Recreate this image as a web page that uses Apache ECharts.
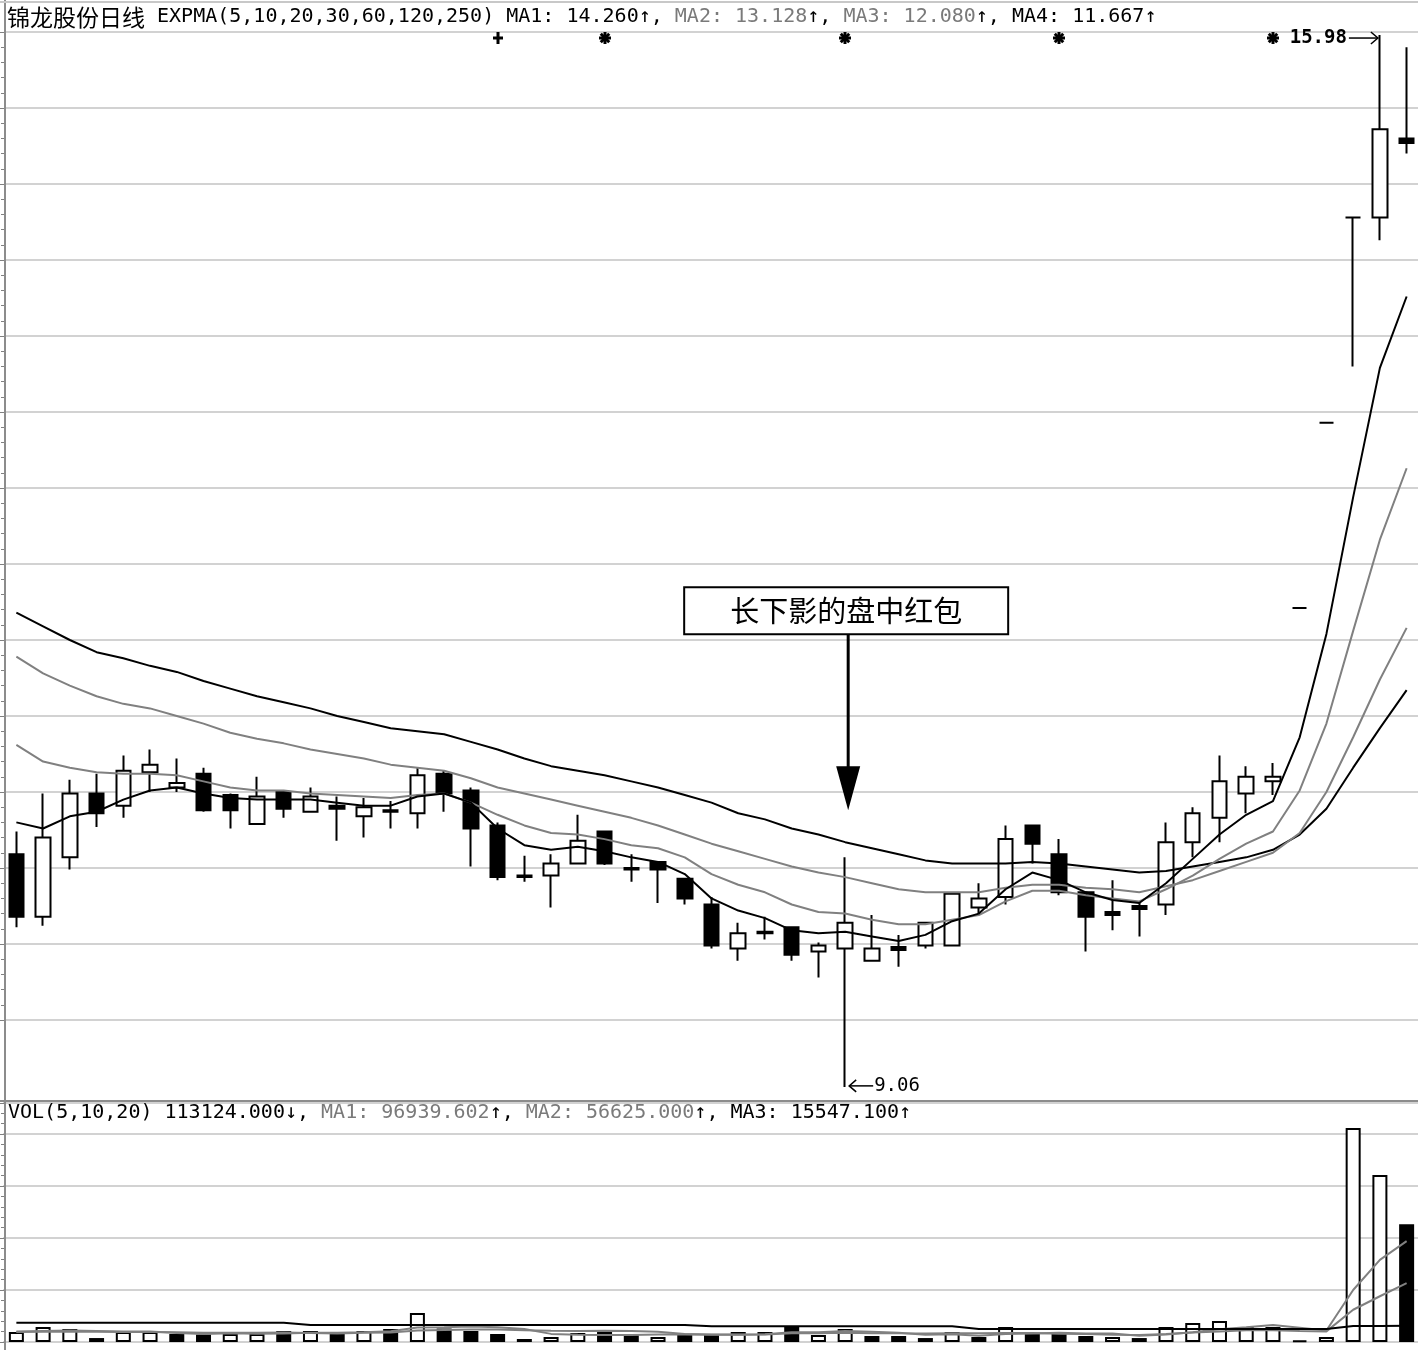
<!DOCTYPE html>
<html>
<head>
<meta charset="utf-8">
<title>锦龙股份日线</title>
<script src="https://cdn.jsdelivr.net/npm/echarts@6/dist/echarts.min.js"></script>
<style>
  html, body { margin: 0; padding: 0; background: #fff; }
  #main { width: 1418px; height: 1350px; }
</style>
</head>
<body>
<div id="main"></div>
<script>
// open, close, low, high
const candles = [
  [10.59, 10.18, 10.11, 10.74], [10.18, 10.70, 10.12, 10.99], [10.57, 10.99, 10.49, 11.08],
  [10.99, 10.86, 10.77, 11.12], [10.91, 11.14, 10.83, 11.24], [11.13, 11.18, 11.00, 11.28],
  [11.03, 11.06, 11.00, 11.22], [11.12, 10.88, 10.87, 11.16], [10.98, 10.88, 10.76, 10.99],
  [10.79, 10.97, 10.79, 11.10], [11.00, 10.89, 10.83, 11.01], [10.87, 10.97, 10.87, 11.03],
  [10.91, 10.89, 10.68, 10.97], [10.84, 10.90, 10.70, 10.96], [10.88, 10.87, 10.76, 10.94],
  [10.86, 11.11, 10.76, 11.16], [11.12, 10.99, 10.87, 11.14], [11.01, 10.76, 10.51, 11.03],
  [10.78, 10.44, 10.42, 10.80], [10.45, 10.44, 10.41, 10.58], [10.45, 10.53, 10.24, 10.59],
  [10.53, 10.68, 10.53, 10.85], [10.74, 10.53, 10.52, 10.74], [10.50, 10.49, 10.41, 10.59],
  [10.54, 10.49, 10.27, 10.54], [10.43, 10.30, 10.26, 10.43], [10.26, 9.99, 9.97, 10.31],
  [9.97, 10.07, 9.89, 10.14], [10.08, 10.07, 10.03, 10.18], [10.11, 9.93, 9.89, 10.11],
  [9.95, 9.99, 9.78, 10.01], [9.97, 10.14, 9.06, 10.57], [9.89, 9.97, 9.89, 10.19],
  [9.98, 9.96, 9.85, 10.06], [9.99, 10.14, 9.97, 10.14], [9.99, 10.33, 9.99, 10.34],
  [10.24, 10.30, 10.20, 10.40], [10.31, 10.69, 10.26, 10.78], [10.78, 10.66, 10.53, 10.78],
  [10.59, 10.34, 10.32, 10.69], [10.34, 10.18, 9.95, 10.34], [10.21, 10.19, 10.09, 10.42],
  [10.25, 10.23, 10.05, 10.28], [10.26, 10.67, 10.19, 10.80], [10.67, 10.86, 10.57, 10.90],
  [10.83, 11.07, 10.67, 11.24], [10.99, 11.10, 10.86, 11.17], [11.07, 11.10, 10.98, 11.19],
  [12.21, 12.21, 12.21, 12.21], [13.43, 13.43, 13.43, 13.43], [14.78, 14.78, 13.80, 14.78],
  [14.78, 15.36, 14.63, 15.98], [15.30, 15.27, 15.20, 15.90]
];

const expma5 = [10.80, 10.76, 10.84, 10.87, 10.95, 11.01, 11.03, 10.99, 10.96, 10.95,
  10.95, 10.95, 10.93, 10.91, 10.91, 10.97, 10.99, 10.93, 10.76, 10.65,
  10.62, 10.64, 10.61, 10.57, 10.54, 10.46, 10.30, 10.22, 10.17, 10.09,
  10.07, 10.08, 10.05, 10.02, 10.06, 10.15, 10.20, 10.36, 10.47, 10.42,
  10.34, 10.29, 10.27, 10.40, 10.56, 10.72, 10.85, 10.94, 11.36, 12.04,
  12.94, 13.79, 14.26];
const expma10 = [11.31, 11.20, 11.16, 11.13, 11.12, 11.12, 11.11, 11.07, 11.03, 11.01,
  11.01, 10.99, 10.98, 10.97, 10.96, 10.98, 10.99, 10.93, 10.85, 10.78,
  10.73, 10.72, 10.69, 10.65, 10.63, 10.57, 10.46, 10.39, 10.34, 10.26,
  10.21, 10.20, 10.16, 10.13, 10.13, 10.16, 10.19, 10.28, 10.35, 10.35,
  10.32, 10.30, 10.28, 10.36, 10.45, 10.56, 10.66, 10.74, 11.01, 11.45,
  12.06, 12.66, 13.13];
const expma20 = [11.89, 11.78, 11.70, 11.63, 11.58, 11.55, 11.50, 11.45, 11.39, 11.35,
  11.32, 11.28, 11.25, 11.22, 11.18, 11.16, 11.14, 11.09, 11.03, 10.99,
  10.95, 10.91, 10.87, 10.83, 10.78, 10.72, 10.66, 10.61, 10.56, 10.51,
  10.47, 10.44, 10.40, 10.36, 10.34, 10.34, 10.34, 10.37, 10.39, 10.39,
  10.37, 10.36, 10.34, 10.38, 10.42, 10.48, 10.54, 10.60, 10.73, 11.00,
  11.36, 11.74, 12.08];
const expma30 = [12.18, 12.09, 12.00, 11.92, 11.88, 11.83, 11.79, 11.73, 11.68, 11.63,
  11.59, 11.55, 11.50, 11.46, 11.42, 11.40, 11.38, 11.33, 11.28, 11.22,
  11.17, 11.14, 11.11, 11.07, 11.03, 10.98, 10.93, 10.86, 10.82, 10.76,
  10.72, 10.67, 10.63, 10.59, 10.55, 10.53, 10.53, 10.53, 10.54, 10.53,
  10.51, 10.49, 10.47, 10.48, 10.51, 10.54, 10.57, 10.62, 10.72, 10.89,
  11.16, 11.42, 11.67];

const volumes = [9600, 14400, 12500, 3800, 9600, 9600, 7700, 7200, 7700, 7700,
  10600, 10600, 7700, 10600, 12500, 27900, 13000, 10600, 7700, 2900,
  4800, 8700, 9600, 7700, 4800, 6700, 6700, 9600, 9600, 14400,
  6700, 12500, 5800, 5800, 3800, 9600, 4800, 14400, 7700, 7700,
  5800, 4800, 3800, 14400, 18300, 20200, 14400, 14400, 1400, 4800,
  205800, 160600, 113124];
// 1 = hollow (up) bar, 0 = filled bar
const volUp = [1, 1, 1, 0, 1, 1, 0, 0, 1, 1,
  0, 1, 0, 1, 0, 1, 0, 0, 0, 0,
  1, 1, 0, 0, 1, 0, 0, 1, 1, 0,
  1, 1, 0, 0, 0, 1, 0, 1, 0, 0,
  0, 1, 0, 1, 1, 1, 1, 1, 1, 1,
  1, 1, 0];
const volMa5 = [10000, 10500, 11000, 10500, 10000, 10000, 8600, 7600, 8400, 8000,
  8200, 8800, 8900, 9400, 10400, 13900, 14300, 14900, 14300, 12400,
  7800, 6900, 6700, 6700, 7100, 7500, 7100, 7100, 7500, 9400,
  9400, 10600, 9800, 9000, 6900, 7500, 6000, 7700, 8100, 8800,
  8100, 8100, 6000, 7300, 9400, 12300, 14200, 16300, 13700, 11000,
  50000, 79000, 96940];
const volMa10 = [9500, 9800, 10000, 9800, 9600, 9500, 9300, 9000, 8900, 9000,
  9100, 8700, 8200, 8900, 9200, 11000, 11600, 11900, 11900, 11400,
  10800, 10600, 10800, 10500, 9800, 7700, 7000, 6900, 7100, 8300,
  8500, 8800, 8500, 8300, 8200, 8500, 8300, 8700, 8600, 7900,
  7800, 7000, 6800, 7700, 9100, 10200, 11200, 11200, 10500, 10200,
  31000, 44000, 56625];
const volMa20 = [18500, 18500, 18500, 18500, 18500, 18500, 18500, 18500, 18500, 18500,
  18500, 16300, 16300, 16300, 16300, 16300, 16300, 16300, 16300, 16300,
  16300, 16300, 16300, 16300, 16300, 16300, 15200, 15200, 15200, 15200,
  15200, 15200, 15200, 15200, 15200, 15200, 12500, 12500, 12500, 12500,
  12500, 12500, 12500, 12500, 12500, 12500, 12500, 12500, 12500, 12500,
  15400, 15500, 15547];

const signalBars = [18, 22, 31, 39, 47];
const signalMarks = ['plus', 'star', 'star', 'star', 'star'];
const noteBar = 31;
const lowBar = 31;
const highBar = 51;
const days = candles.map((c, i) => i + 1);

const GRID_LINE = '#d2d2d2';
const GRAY = '#808080';
const MONO = 'DejaVu Sans Mono';

const chart = echarts.init(document.getElementById('main'));

const lineSeries = (name, data, color, axis, width) => ({
  name, type: 'line', data,
  xAxisIndex: axis, yAxisIndex: axis,
  showSymbol: false, symbol: 'none', silent: true,
  lineStyle: { color, width: width || 2 },
  z: 5
});

const option = {
  animation: false,
  backgroundColor: '#fff',
  grid: [
    { left: 3, width: 1417, top: 32, height: 1070, outerBoundsMode: 'none' },
    { left: 5, right: 0, top: 32, height: 988, outerBoundsMode: 'none' },
    { left: 3, width: 1417, top: 1102.8, height: 239.2, outerBoundsMode: 'none' }
  ],
  xAxis: [
    { type: 'category', gridIndex: 0, data: days, boundaryGap: true, show: false },
    { type: 'category', gridIndex: 1, data: days, show: false },
    { type: 'category', gridIndex: 2, data: days, boundaryGap: true, show: false }
  ],
  yAxis: [
    { type: 'value', gridIndex: 0, min: 8.9605, max: 16, show: false },
    {
      type: 'value', gridIndex: 1, min: 9.5, max: 16, interval: 0.5,
      axisLabel: { show: false },
      axisLine: { show: false },
      axisTick: { show: true, length: 5, lineStyle: { color: GRAY, width: 1 } },
      minorTick: { show: true, splitNumber: 5, length: 4, lineStyle: { color: GRAY } },
      splitLine: { show: true, lineStyle: { color: GRID_LINE, width: 2 } }
    },
    {
      type: 'value', gridIndex: 2, min: 0, max: 230000, interval: 50000, offset: -2,
      axisLabel: { show: false },
      axisLine: { show: false },
      axisTick: { show: true, length: 5, lineStyle: { color: GRAY, width: 1 } },
      minorTick: { show: true, splitNumber: 5, length: 4, lineStyle: { color: GRAY } },
      splitLine: { show: true, lineStyle: { color: GRID_LINE, width: 2 } }
    }
  ],
  series: [
    {
      name: '日线', type: 'candlestick', data: candles,
      xAxisIndex: 0, yAxisIndex: 0, barWidth: 15, silent: true,
      itemStyle: {
        color: '#fff', color0: '#000',
        borderColor: '#000', borderColor0: '#000', borderColorDoji: '#000',
        borderWidth: 2
      },
      z: 3
    },
    lineSeries('MA4', expma30, '#000', 0),
    lineSeries('MA3', expma20, GRAY, 0),
    lineSeries('MA2', expma10, GRAY, 0),
    lineSeries('MA1', expma5, '#000', 0),
    {
      name: 'VOL', type: 'bar', xAxisIndex: 2, yAxisIndex: 2, barWidth: 15,
      silent: true, clip: false,
      data: volumes.map((v, i) => ({
        value: v,
        itemStyle: { color: volUp[i] ? '#fff' : '#000', borderColor: '#000', borderWidth: 2 }
      })),
      z: 3
    },
    lineSeries('VMA1', volMa5, GRAY, 2),
    lineSeries('VMA2', volMa10, GRAY, 2),
    lineSeries('VMA3', volMa20, '#000', 2)
  ]
};

chart.setOption(option);

const toPx = (i, v) => chart.convertToPixel({ xAxisIndex: 0, yAxisIndex: 0 }, [i, v]);

const graphics = [
  { type: 'line', shape: { x1: 5, y1: 0, x2: 5, y2: 1350 }, style: { stroke: '#8c8c8c', lineWidth: 2 }, z: 20 },
  { type: 'line', shape: { x1: 0, y1: 2, x2: 1418, y2: 2 }, style: { stroke: '#c8c8c8', lineWidth: 2 }, z: 20 },
  { type: 'line', shape: { x1: 0, y1: 1101, x2: 1418, y2: 1101 }, style: { stroke: '#8c8c8c', lineWidth: 2 }, z: 20 },
  {
    type: 'text', x: 7, y: 17, z: 20,
    style: {
      text: '{cn|锦龙股份日线}{k| EXPMA(5,10,20,30,60,120,250) MA1: 14.260↑, }{g|MA2: 13.128}{k|↑, }{g|MA3: 12.080}{k|↑, MA4: 11.667↑}',
      verticalAlign: 'middle',
      rich: {
        cn: { fontFamily: 'Noto Sans CJK SC', fontSize: 23, fill: '#000' },
        k: { fontFamily: MONO, fontSize: 20, fill: '#000' },
        g: { fontFamily: MONO, fontSize: 20, fill: '#7a7a7a' }
      }
    }
  },
  {
    type: 'text', x: 8, y: 1113, z: 20,
    style: {
      text: '{k|VOL(5,10,20) 113124.000↓, }{g|MA1: 96939.602}{k|↑, }{g|MA2: 56625.000}{k|↑, MA3: 15547.100↑}',
      verticalAlign: 'middle',
      rich: {
        k: { fontFamily: MONO, fontSize: 20, fill: '#000' },
        g: { fontFamily: MONO, fontSize: 20, fill: '#7a7a7a' }
      }
    }
  }
];

// annotation box with arrow above the long lower shadow
const [nx, ny] = toPx(noteBar, candles[noteBar][3]);
const ax = nx + 3;
graphics.push(
  { type: 'rect', shape: { x: ax - 164, y: ny - 270, width: 324, height: 47 },
    style: { fill: '#fff', stroke: '#000', lineWidth: 2 }, z: 20 },
  { type: 'text', x: ax - 2, y: ny - 246, z: 21,
    style: { text: '长下影的盘中红包', fill: '#000', fontFamily: 'Noto Sans CJK SC', fontSize: 29,
      align: 'center', verticalAlign: 'middle' } },
  { type: 'line', shape: { x1: ax, y1: ny - 223, x2: ax, y2: ny - 88 },
    style: { stroke: '#000', lineWidth: 3 }, z: 20 },
  { type: 'polygon', shape: { points: [[ax - 12, ny - 91], [ax + 12, ny - 91], [ax, ny - 47]] },
    style: { fill: '#000' }, z: 20 }
);

// lowest price marker
const [lx, ly] = toPx(lowBar, candles[lowBar][2]);
graphics.push(
  { type: 'line', shape: { x1: lx + 4, y1: ly - 1, x2: lx + 28, y2: ly - 1 },
    style: { stroke: '#000', lineWidth: 1.5 }, z: 20 },
  { type: 'polyline', shape: { points: [[lx + 11, ly - 7], [lx + 4, ly - 1], [lx + 11, ly + 5]] },
    style: { stroke: '#000', lineWidth: 1.5, fill: null }, z: 20 },
  { type: 'text', x: lx + 29, y: ly - 1, z: 20,
    style: { text: candles[lowBar][2].toFixed(2), fill: '#000', fontFamily: MONO, fontSize: 19,
      verticalAlign: 'middle' } }
);

// highest price marker
const [hx, hy] = toPx(highBar, candles[highBar][3]);
graphics.push(
  { type: 'text', x: hx - 33, y: hy + 3, z: 20,
    style: { text: candles[highBar][3].toFixed(2), fill: '#000', fontFamily: MONO, fontSize: 19,
      fontWeight: 'bold', align: 'right', verticalAlign: 'middle' } },
  { type: 'line', shape: { x1: hx - 31, y1: hy + 3, x2: hx - 2, y2: hy + 3 },
    style: { stroke: '#000', lineWidth: 1.5 }, z: 20 },
  { type: 'polyline', shape: { points: [[hx - 9, hy - 3], [hx - 2, hy + 3], [hx - 9, hy + 9]] },
    style: { stroke: '#000', lineWidth: 1.5, fill: null }, z: 20 }
);

// signal marks along the top row, drawn as heavy plus / asterisk glyphs
signalBars.forEach((b, k) => {
  const sx = Math.round(toPx(b, 16)[0]);
  const sy = 38;
  const segs = signalMarks[k] === 'plus'
    ? [[0, 6], [90, 5]]
    : [[0, 6], [45, 6], [90, 6], [135, 6]];
  segs.forEach(([deg, r]) => {
    const rad = deg * Math.PI / 180;
    const dx = Math.sin(rad) * r, dy = Math.cos(rad) * r;
    graphics.push({
      type: 'line', z: 20,
      shape: { x1: sx - dx, y1: sy - dy, x2: sx + dx, y2: sy + dy },
      style: { stroke: '#000', lineWidth: 3 }
    });
  });
});

chart.setOption({ graphic: graphics });
</script>
</body>
</html>
